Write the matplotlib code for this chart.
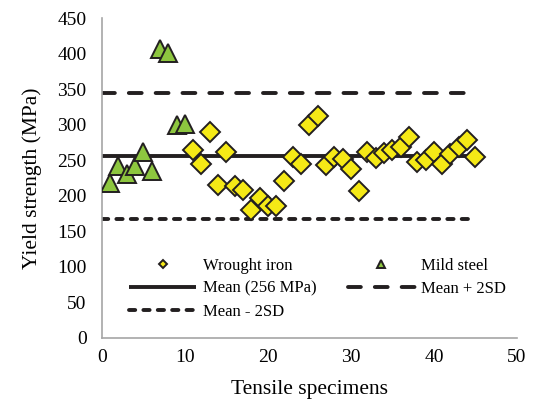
import numpy as np
from matplotlib import pyplot as plt

plt.rcParams['font.family'] = ['Liberation Serif', 'DejaVu Serif']

steel_x = [1, 2, 3, 4, 5, 6, 7, 8, 9, 10]
steel_y = [218, 242, 231, 242, 261, 235, 406, 401, 299, 301]

iron_x = list(range(11, 46))
iron_y = [264, 245, 290, 215, 262, 214, 208, 180, 197, 185,
          185, 221, 255, 245, 300, 312, 243, 255, 252, 238,
          207, 262, 253, 260, 265, 268, 283, 247, 250, 262,
          245, 259, 268, 279, 254]

mean_val = 256
upper_val = 345
lower_val = 167
line_x = [0, 44]

fig = plt.figure(figsize=(5.39, 4.12), dpi=100)
ax = fig.add_axes([0.189, 0.180, 0.770, 0.776])

ax.plot(line_x, [mean_val] * 2, color='#231f20', lw=2.8, solid_capstyle='butt',
        label='Mean (256 MPa)', zorder=2)
ax.plot(line_x, [upper_val] * 2, color='#231f20', lw=2.8, dashes=(3.3, 3.6),
        dash_capstyle='round', label='Mean + 2SD', zorder=2)
ax.plot([0, 45], [lower_val] * 2, color='#231f20', lw=2.8, dashes=(1.6, 2.1),
        dash_capstyle='round', label='Mean - 2SD', zorder=2)

ax.plot(iron_x, iron_y, ls='none', marker='D', ms=10, mfc='#f5e916',
        mec='#231f20', mew=1.4, label='Wrought iron', zorder=3)
ax.plot(steel_x, steel_y, ls='none', marker='^', ms=12.5, mfc='#8dc63f',
        mec='#231f20', mew=1.4, label='Mild steel', zorder=3)

ax.set_xlim(0, 50)
ax.set_ylim(0, 450)
ax.set_xticks(np.arange(0, 51, 10))
ax.set_yticks(np.arange(0, 451, 50))
ax.tick_params(length=0, labelsize=14)
ax.tick_params(axis='y', pad=11)
ax.tick_params(axis='x', pad=8)
for s in ['top', 'right']:
    ax.spines[s].set_visible(False)
for s in ['left', 'bottom']:
    ax.spines[s].set_color('#a6a6a6')
    ax.spines[s].set_linewidth(1.2)

ax.set_xlabel('Tensile specimens', fontsize=15.5, labelpad=10)
ax.set_ylabel('Yield strength (MPa)', fontsize=15.5, labelpad=11)

h, l = ax.get_legend_handles_labels()
order = [3, 0, 2, 4, 1]
ax.legend([h[i] for i in order], [l[i] for i in order], ncol=2, frameon=False,
          fontsize=12, markerscale=0.45, handlelength=4.0, handletextpad=0.4,
          columnspacing=1.9, labelspacing=0.42, loc='lower center',
          bbox_to_anchor=(0.52, 0.01))

fig.savefig('out.png', dpi=100)
